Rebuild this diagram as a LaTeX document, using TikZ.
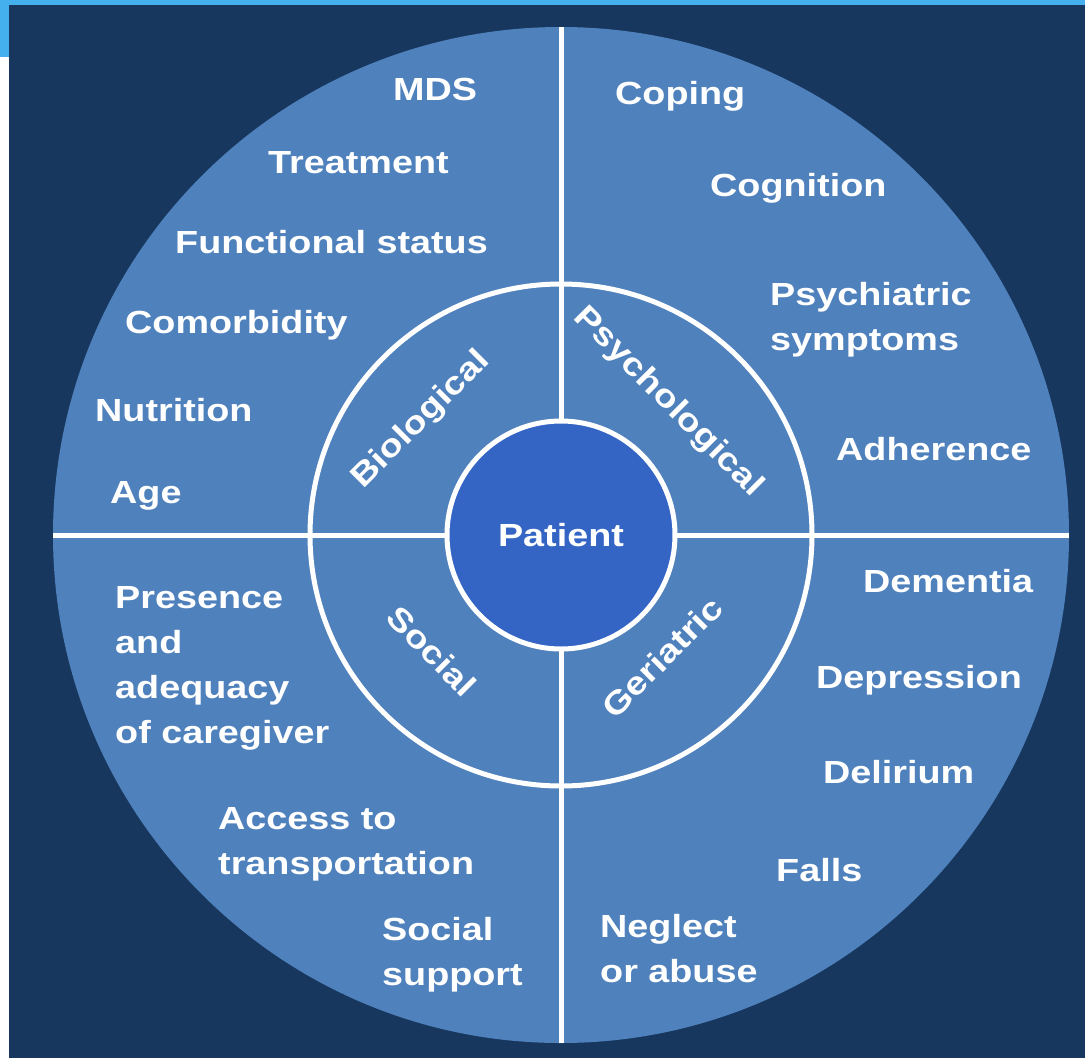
\documentclass[tikz,border=0pt]{standalone}
\usepackage{fontspec}
\setmainfont{Liberation Sans}[FakeStretch=1.18]
\definecolor{NavyBack}{RGB}{23,55,94}
\definecolor{WheelBlue}{RGB}{79,129,189}
\definecolor{CoreBlue}{RGB}{52,101,196}
\definecolor{SkyStrip}{RGB}{69,176,238}
\tikzset{
  divider/.style={draw=white,line width=5pt},
  ringline/.style={circle,draw=white,line width=5pt,inner sep=0pt},
  factor/.style={text=white,inner sep=0pt,anchor=base west,align=left,
    font=\fontsize{32}{45}\selectfont\bfseries},
  domainlabel/.style={text=white,inner sep=0pt,
    font=\fontsize{32}{38}\selectfont\bfseries}
}

\begin{document}
\begin{tikzpicture}[x=1pt,y=1pt]
  \useasboundingbox (0,0) rectangle (1085,-1058);
  % backdrop with the light strip along the top
  \fill[SkyStrip] (0,0) rectangle (1085,-5);
  \fill[SkyStrip] (0,0) rectangle (9,-57);
  \fill[NavyBack] (9,-5) rectangle (1085,-1058);

  % wheel, quadrant dividers, domain ring and hub
  \node[circle,fill=WheelBlue,inner sep=0pt,minimum size=1016pt] (wheel) at (561,-535) {};
  \draw[divider] (wheel.west) -- (wheel.east);
  \draw[divider] (wheel.north) -- (wheel.south);
  \node[ringline,minimum size=502pt] (domains) at (wheel.center) {};
  \node[ringline,fill=CoreBlue,minimum size=228pt,
    font=\fontsize{32}{38}\selectfont\bfseries,text=white] (patient) at (wheel.center) {Patient};

  % domain labels inside the ring
  \node[domainlabel,rotate=45]  (biological)    at (421,-420) {Biological};
  \node[domainlabel,rotate=-45] (psychological) at (668,-402) {Psychological};
  \node[domainlabel,rotate=-45] (social)        at (432,-651) {Social};
  \node[domainlabel,rotate=45]  (geriatric)     at (662,-657) {Geriatric};

  % biological factors
  \node[factor] (mds)        at (393,-100) {MDS};
  \node[factor] (treatment)  at (268,-173) {Treatment};
  \node[factor] (functional) at (175,-253) {Functional status};
  \node[factor] (comorbid)   at (125,-333) {Comorbidity};
  \node[factor] (nutrition)  at (95,-421)  {Nutrition};
  \node[factor] (age)        at (110,-503) {Age};

  % psychological factors (multi-line: base is the last line)
  \node[factor] (coping)      at (615,-104) {Coping};
  \node[factor] (cognition)   at (710,-196) {Cognition};
  \node[factor] (psychiatric) at (770,-350) {Psychiatric\\symptoms};
  \node[factor] (adherence)   at (836,-460) {Adherence};

  % social factors
  \node[factor] (caregiver) at (115,-743) {Presence\\and\\adequacy\\of caregiver};
  \node[factor] (transport) at (218,-874) {Access to\\transportation};
  \node[factor] (support)   at (382,-985) {Social\\support};

  % geriatric factors
  \node[factor] (dementia)   at (863,-592) {Dementia};
  \node[factor] (depression) at (816,-688) {Depression};
  \node[factor] (delirium)   at (823,-783) {Delirium};
  \node[factor] (falls)      at (776,-881) {Falls};
  \node[factor] (neglect)    at (600,-982) {Neglect\\or abuse};
\end{tikzpicture}
\end{document}
